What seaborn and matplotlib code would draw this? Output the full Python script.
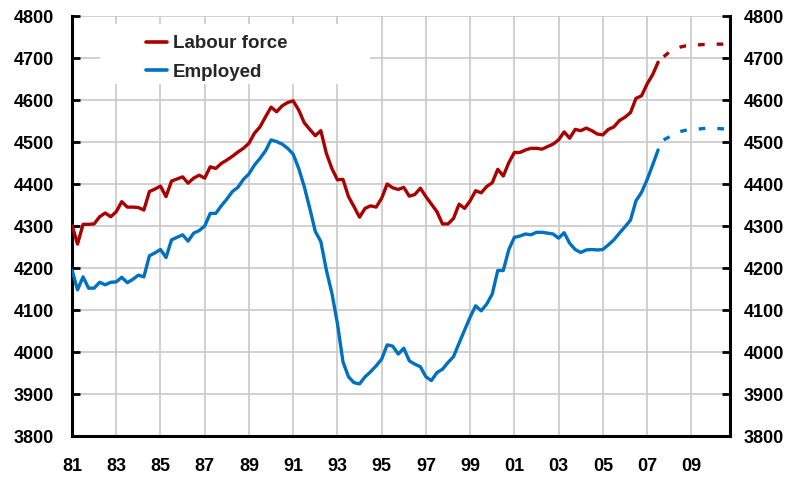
# Labour force vs employed, quarterly, with dotted projection to 2010

import numpy as np
import pandas as pd
import matplotlib
matplotlib.use("Agg")
import matplotlib.pyplot as plt
import seaborn as sns
from matplotlib.patches import Rectangle

# quarterly data, 1981Q1 - 2007Q3
labour_force = [4302, 4257, 4304, 4304, 4305, 4322, 4331, 4322, 4334, 4358,
                4345, 4345, 4344, 4338, 4382, 4388, 4395, 4370, 4407, 4412,
                4417, 4402, 4414, 4421, 4414, 4441, 4437, 4449, 4457, 4466,
                4476, 4485, 4497, 4521, 4536, 4560, 4583, 4572, 4586, 4594,
                4598, 4576, 4546, 4530, 4515, 4527, 4473, 4437, 4410, 4411,
                4370, 4346, 4321, 4342, 4348, 4345, 4366, 4400, 4391, 4387,
                4392, 4371, 4375, 4390, 4370, 4352, 4334, 4305, 4305, 4318,
                4352, 4342, 4360, 4384, 4379, 4394, 4403, 4435, 4419, 4451,
                4475, 4475, 4481, 4485, 4485, 4483, 4489, 4495, 4505, 4524,
                4509, 4530, 4527, 4533, 4527, 4519, 4517, 4530, 4536, 4551,
                4559, 4570, 4604, 4610, 4638, 4660, 4690]
employed = [4195, 4148, 4179, 4152, 4152, 4166, 4160, 4166, 4167, 4178,
            4165, 4173, 4183, 4179, 4229, 4236, 4244, 4225, 4267, 4273,
            4279, 4264, 4283, 4289, 4300, 4330, 4330, 4348, 4364, 4382,
            4392, 4411, 4424, 4445, 4461, 4479, 4505, 4501, 4495, 4485,
            4471, 4437, 4394, 4342, 4287, 4263, 4195, 4140, 4068, 3977,
            3941, 3927, 3924, 3941, 3953, 3967, 3983, 4017, 4014, 3995,
            4009, 3979, 3971, 3965, 3941, 3932, 3951, 3959, 3975, 3989,
            4021, 4052, 4083, 4110, 4098, 4114, 4138, 4194, 4194, 4244,
            4273, 4276, 4281, 4279, 4285, 4285, 4283, 4281, 4271, 4284,
            4259, 4244, 4237, 4243, 4244, 4243, 4244, 4255, 4267, 4283,
            4298, 4314, 4360, 4380, 4410, 4445, 4481]

# projections, 2007Q4 - 2010Q4
labour_force_proj = [4703, 4714, 4721, 4726, 4729, 4730, 4731, 4732, 4732,
                     4733, 4733, 4733, 4732]
employed_proj = [4505, 4512, 4520, 4525, 4528, 4529, 4530, 4532, 4533,
                 4533, 4532, 4531, 4531]

x_ticks = list(range(1981, 2010, 2))
x_ticklabels = ['81', '83', '85', '87', '89', '91', '93', '95', '97', '99',
                '01', '03', '05', '07', '09']

red = '#AA0000'
blue = '#0070C0'

n_hist = len(labour_force)
t_hist = 1981 + np.arange(n_hist) / 4
t_proj = 1981 + (n_hist + np.arange(len(labour_force_proj))) / 4

df = pd.DataFrame({'t': t_hist, 'lf': labour_force, 'emp': employed})
dfp = pd.DataFrame({'t': t_proj, 'lf': labour_force_proj, 'emp': employed_proj})

sns.set_style('white')
plt.rcParams['font.family'] = ['Liberation Sans', 'DejaVu Sans']
plt.rcParams['font.weight'] = 'bold'

fig = plt.figure(figsize=(7.92, 4.78), dpi=100)
ax = fig.add_axes([72 / 792, 1 - 436 / 478, 658 / 792, 420 / 478])

sns.lineplot(data=df, x='t', y='lf', ax=ax, color=red, linewidth=2.4,
             label='Labour force', zorder=3)
sns.lineplot(data=df, x='t', y='emp', ax=ax, color=blue, linewidth=2.4,
             label='Employed', zorder=3)
sns.lineplot(data=dfp, x='t', y='lf', ax=ax, color=red, linewidth=2.4,
             linestyle=(0, (2, 3.6)), zorder=3)
sns.lineplot(data=dfp, x='t', y='emp', ax=ax, color=blue, linewidth=2.4,
             linestyle=(0, (2, 3.6)), zorder=3)

ax.set_xlim(1981, 2010.75)
ax.set_ylim(3800, 4800)
ax.set_yticks(range(3800, 4801, 100))
ax.set_xticks(x_ticks)
ax.set_xticklabels(x_ticklabels)
ax.set_xlabel('')
ax.set_ylabel('')

ax.set_axisbelow(True)
ax.grid(True, color='#C8C8C8', linewidth=1.2)

# white box behind the legend
ax.add_patch(Rectangle((0.043, 0.838), 0.41, 0.142, transform=ax.transAxes,
                       facecolor='white', edgecolor='none', zorder=1))

for s in ['top', 'right']:
    ax.spines[s].set_visible(False)
for s in ['left', 'bottom']:
    ax.spines[s].set_linewidth(2.2)
    ax.spines[s].set_color('black')

ax.tick_params(axis='y', direction='in', length=6, width=2, pad=13,
               labelsize=13, colors='black')
ax.tick_params(axis='x', direction='in', length=6, width=2, pad=16,
               labelsize=13, colors='black')

ax2 = ax.twinx()
ax2.set_ylim(3800, 4800)
ax2.set_yticks(range(3800, 4801, 100))
for s in ['top', 'left', 'bottom']:
    ax2.spines[s].set_visible(False)
ax2.spines['right'].set_linewidth(2.2)
ax2.spines['right'].set_color('black')
ax2.tick_params(axis='y', direction='in', length=6, width=2, pad=10,
                labelsize=13, colors='black')

leg = ax.legend(loc='upper left', bbox_to_anchor=(0.112, 0.954), frameon=False,
                borderpad=0, borderaxespad=0, handlelength=1.15,
                handletextpad=0.3, labelspacing=0.6,
                prop={'size': 13.5, 'weight': 'bold'})
for line in leg.get_lines():
    line.set_linewidth(2.6)

fig.savefig('out.png', dpi=100)
